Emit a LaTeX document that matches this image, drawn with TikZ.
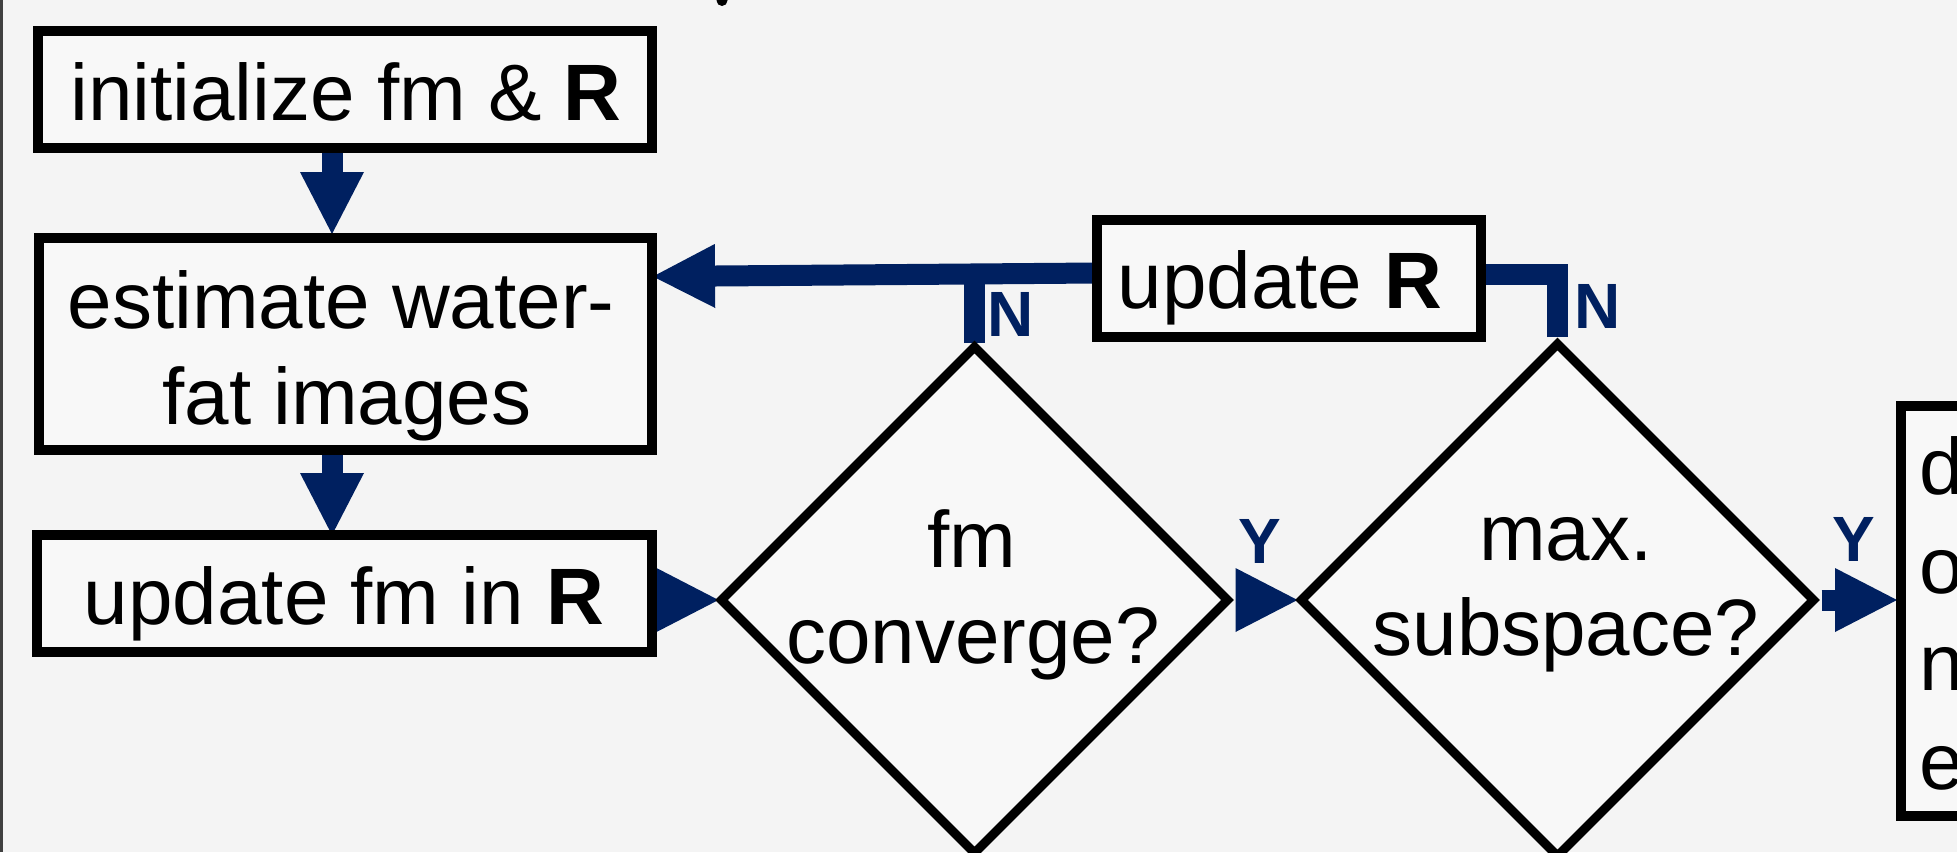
\documentclass[tikz,border=0pt]{standalone}
\usepackage{fontspec}
\setmainfont{Liberation Sans}
\usetikzlibrary{arrows.meta,shapes.geometric}
\definecolor{navy}{HTML}{002060}
\definecolor{paper}{HTML}{F4F4F4}
\definecolor{boxfill}{HTML}{F8F8F8}
\pgfdeclarelayer{paperlayer}
\pgfdeclarelayer{links}
\pgfsetlayers{paperlayer,links,main}

\begin{document}
\begin{tikzpicture}[x=1pt,y=-1pt,
  stepbox/.style={draw=black, line width=10pt, fill=boxfill, rectangle,
    inner sep=0pt, outer sep=0pt, line join=miter},
  decision/.style={draw=black, line width=9pt, fill=boxfill, diamond, aspect=1,
    inner sep=0pt, outer sep=0pt, line join=miter},
  txt/.style={inner sep=0pt, outer sep=0pt, anchor=base,
    font=\fontsize{80}{96}\selectfont},
  tag/.style={inner sep=0pt, outer sep=0pt, anchor=base, text=navy,
    font=\fontsize{64}{77}\selectfont\bfseries},
  flow/.style={draw=navy, line width=21pt,
    -{Triangle[width=64pt,length=62pt,line width=0pt]}},
  branch/.style={draw=navy, line width=21pt, line join=miter},
]
\useasboundingbox (0,0) rectangle (1957,852);

% paper, frame edge and a stray mark at the top
\begin{pgfonlayer}{paperlayer}
  \fill[paper] (0,0) rectangle (1957,852);
  \draw[line width=3pt, black!75] (1.5,0) -- (1.5,852);
  \fill (722,0.5) circle (5.5);
\end{pgfonlayer}

% process boxes
\node[stepbox, minimum width=614pt, minimum height=117pt] (init) at (345,89.5) {};
\node[stepbox, minimum width=613.5pt, minimum height=212pt] (est) at (345.25,344) {};
\node[stepbox, minimum width=615.4pt, minimum height=117pt] (upfm) at (344.3,593.5) {};
\node[stepbox, minimum width=384pt, minimum height=117pt] (upR) at (1289,278.5) {};
\node[stepbox, minimum width=399pt, minimum height=410pt] (done) at (2100.5,611) {};

% decisions
\node[decision, minimum width=506pt, minimum height=506pt] (conv) at (974.5,600) {};
\node[decision, minimum width=512pt, minimum height=512pt] (maxs) at (1557.5,600) {};

% connectors, kept beneath the shapes
\coordinate (colA) at (332,0);
\coordinate (joinA) at (976,274);
\begin{pgfonlayer}{links}
  \draw[flow, shorten >=4pt] (init.south -| colA) -- (est.north -| colA);
  \draw[flow] (est.south -| colA) -- (upfm.north -| colA);
  \draw[flow, shorten >=3pt] (upfm.east |- conv.west) -- (conv.west);
  \draw[flow, shorten <=10pt, shorten >=4pt] (conv.east) -- (maxs.west);
  \draw[flow, shorten <=8pt, shorten >=4pt] (maxs.east) -- (done.west |- maxs.east);
  \draw[flow, shorten >=1pt] ([yshift=5.5pt]upR.west) -- ([yshift=67.5pt]est.east);
  \draw[branch, shorten <=4pt] (conv.north) -- (conv.north |- joinA);
  \draw[branch, shorten <=7pt] (maxs.north) |- ([yshift=4pt]upR.east);
\end{pgfonlayer}

% texts
\node[txt] (tInit) at (346,120) {initialize fm \& \textbf{R}};
\node[txt] (tEstA) at (341,328) {estimate water-};
\node[txt] (tEstB) at (347,424) {fat images};
\node[txt] (tUpfm) at (344,624) {update fm in \textbf{R}};
\node[txt] (tUpR) at (1280,308) {update \textbf{R}};
\node[txt] (tConvA) at (971.5,567) {fm};
\node[txt] (tConvB) at (973,663) {converge?};
\node[txt] (tMaxA) at (1566,560) {max.};
\node[txt] (tMaxB) at (1566,655) {subspace?};
\node[txt, anchor=base west] (tDoneA) at (1919,494) {d};
\node[txt, anchor=base west] (tDoneB) at (1919,593) {o};
\node[txt, anchor=base west] (tDoneC) at (1919,690) {n};
\node[txt, anchor=base west] (tDoneD) at (1919,789) {e};

% branch labels
\node[tag] (nA) at (1011,336) {N};
\node[tag] (nB) at (1597.5,328) {N};
\node[tag] (yA) at (1259.5,563) {Y};
\node[tag] (yB) at (1854,561) {Y};
\end{tikzpicture}
\end{document}
